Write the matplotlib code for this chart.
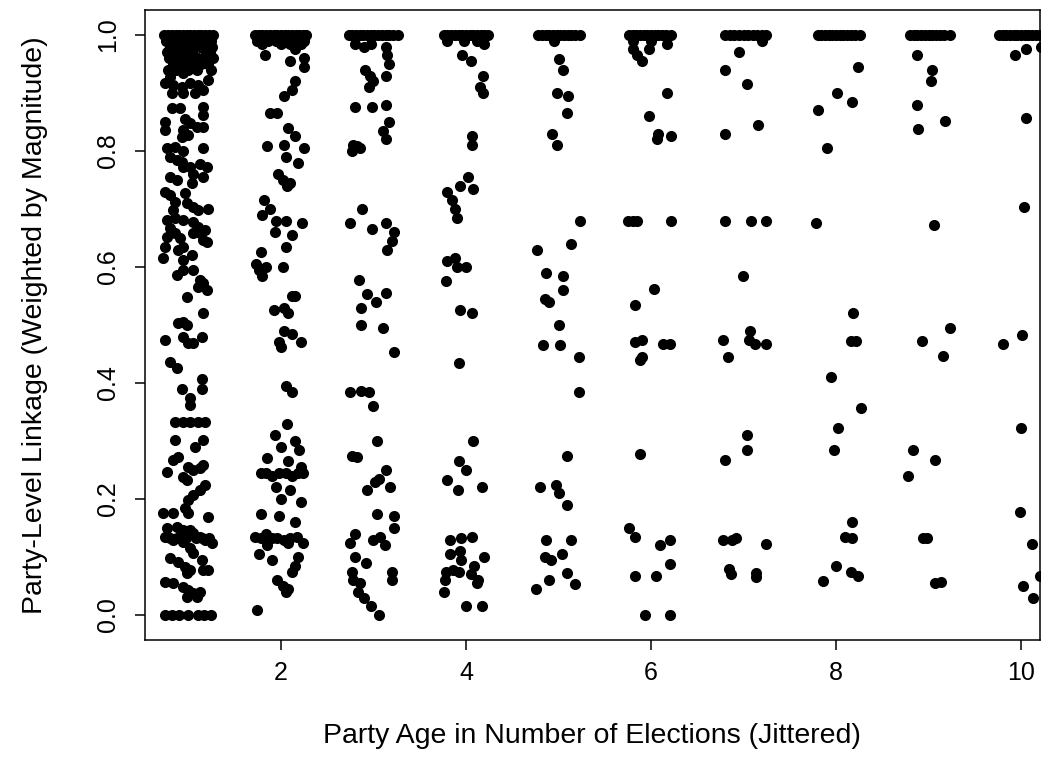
import matplotlib
matplotlib.use("Agg")
import matplotlib.pyplot as plt

plt.rcParams['font.family'] = ['Liberation Sans', 'DejaVu Sans']

# (jittered party age, party-level linkage), one list per age group
g1 = [
    (0.74, 1.0), (0.78, 1.0), (0.82, 1.0), (0.86, 1.0), (0.90, 1.0), (0.94, 1.0), (0.98, 1.0),
    (1.02, 1.0), (1.06, 1.0), (1.10, 1.0), (1.14, 1.0), (1.18, 1.0), (1.22, 1.0), (1.26, 1.0),
    (0.76, 0.99), (0.88, 0.99), (0.97, 0.99), (1.08, 0.99), (1.20, 0.99), (1.24, 0.99),
    (0.80, 0.98), (0.92, 0.98), (1.01, 0.98), (1.12, 0.98), (1.16, 0.98), (1.25, 0.98),
    (0.77, 0.97), (0.85, 0.97), (0.95, 0.97), (1.04, 0.97), (1.19, 0.97), (1.23, 0.97),
    (0.79, 0.96), (0.90, 0.96), (0.99, 0.96), (1.10, 0.96), (1.17, 0.96), (1.26, 0.96),
    (0.83, 0.95), (0.94, 0.95), (1.06, 0.95), (1.14, 0.95), (1.21, 0.95),
    (0.78, 0.94), (0.87, 0.94), (1.00, 0.94), (1.09, 0.94), (1.24, 0.94),
    (0.855, 0.94), (0.94, 0.934), (0.80, 0.928), (0.75, 0.917), (0.83, 0.914), (0.93, 0.91),
    (1.02, 0.917), (1.10, 0.914), (1.21, 0.922), (0.94, 0.90), (1.07, 0.90), (1.16, 0.905), (0.82, 0.90),
    (0.82, 0.874), (0.91, 0.874), (1.16, 0.876), (1.16, 0.862), (0.75, 0.85), (0.75, 0.836),
    (0.96, 0.855), (1.02, 0.848), (0.94, 0.836), (1.09, 0.841), (1.16, 0.841), (0.93, 0.824), (1.00, 0.828),
    (0.77, 0.805), (0.855, 0.807), (0.94, 0.80), (0.80, 0.79), (0.875, 0.784), (0.93, 0.781),
    (0.94, 0.772), (1.16, 0.805), (1.12, 0.778), (1.20, 0.772), (1.02, 0.772), (1.16, 0.755), (1.05, 0.76),
    (0.80, 0.755), (0.875, 0.75), (1.04, 0.745), (0.75, 0.73), (0.80, 0.724), (0.96, 0.727),
    (0.855, 0.712), (0.98, 0.71), (1.05, 0.703), (1.10, 0.698), (0.83, 0.698), (1.21, 0.70),
    (0.77, 0.681), (0.855, 0.684), (0.94, 0.681), (1.05, 0.678), (1.10, 0.669), (1.05, 0.659),
    (1.12, 0.659), (1.18, 0.664), (1.16, 0.647), (0.80, 0.667), (0.77, 0.652), (0.91, 0.65),
    (0.94, 0.634), (1.20, 0.643), (0.855, 0.659), (0.75, 0.634), (0.89, 0.629), (0.72, 0.615),
    (0.94, 0.612), (1.04, 0.621),
    (0.875, 0.586), (0.94, 0.595), (1.05, 0.595), (1.12, 0.578), (1.16, 0.572), (1.10, 0.566),
    (1.20, 0.56), (0.98, 0.548), (1.16, 0.521), (0.89, 0.503), (0.94, 0.505),
    (0.98, 0.50), (0.75, 0.474), (0.94, 0.479), (1.00, 0.469), (1.05, 0.469), (1.15, 0.479),
    (0.80, 0.436), (0.875, 0.426), (1.15, 0.407), (0.93, 0.39), (1.15, 0.39), (1.02, 0.374), (1.02, 0.362),
    (0.855, 0.333), (0.94, 0.333), (1.02, 0.333), (1.10, 0.333), (1.18, 0.333),
    (0.855, 0.302), (1.07, 0.29), (1.16, 0.302), (0.83, 0.267), (0.89, 0.272), (0.77, 0.247),
    (1.00, 0.255), (1.05, 0.25), (1.12, 0.253), (1.16, 0.259), (0.94, 0.238), (0.98, 0.233),
    (1.18, 0.224), (1.12, 0.216), (1.05, 0.207), (1.00, 0.198), (0.96, 0.184), (1.00, 0.176),
    (0.72, 0.176), (0.83, 0.176), (1.21, 0.169),
    (0.77, 0.15), (0.875, 0.152), (0.94, 0.147), (1.02, 0.147), (1.05, 0.141), (1.12, 0.134),
    (1.18, 0.129), (1.25, 0.124), (0.75, 0.134), (0.83, 0.129), (0.94, 0.126), (1.02, 0.116), (1.05, 0.107),
    (0.80, 0.133), (0.88, 0.133), (0.97, 0.133), (1.08, 0.133), (1.15, 0.133), (1.22, 0.133),
    (0.80, 0.098), (0.89, 0.091), (0.96, 0.083), (1.15, 0.095), (1.16, 0.078), (1.21, 0.078),
    (1.02, 0.078), (0.98, 0.072),
    (0.75, 0.057), (0.83, 0.055), (0.94, 0.048), (1.00, 0.043), (1.05, 0.038), (1.12, 0.040),
    (0.98, 0.031), (1.09, 0.031),
    (0.75, 0.0), (0.82, 0.0), (0.90, 0.0), (1.00, 0.0), (1.10, 0.0), (1.17, 0.0), (1.24, 0.0),
]

g2 = [
    (1.72, 1.0), (1.76, 1.0), (1.80, 1.0), (1.84, 1.0), (1.88, 1.0), (1.92, 1.0), (1.96, 1.0), (2.00, 1.0),
    (2.04, 1.0), (2.08, 1.0), (2.12, 1.0), (2.16, 1.0), (2.20, 1.0), (2.24, 1.0), (2.27, 1.0),
    (1.74, 0.99), (1.86, 0.99), (1.95, 0.99), (2.06, 0.99), (2.18, 0.99), (2.25, 0.99),
    (1.80, 0.985), (2.00, 0.985), (2.10, 0.985), (2.22, 0.985),
    (2.15, 0.975), (1.83, 0.965), (2.25, 0.96), (2.10, 0.955), (2.25, 0.945),
    (2.15, 0.92), (2.12, 0.905), (2.03, 0.895), (1.88, 0.865), (1.96, 0.866),
    (2.08, 0.84), (2.15, 0.825), (1.85, 0.808), (2.03, 0.81), (2.25, 0.805), (2.05, 0.79), (2.18, 0.78),
    (1.97, 0.76), (2.02, 0.75), (2.10, 0.745), (2.07, 0.74),
    (1.82, 0.716), (1.88, 0.70), (1.79, 0.69), (1.95, 0.68), (2.05, 0.68), (2.23, 0.675),
    (2.12, 0.655), (1.94, 0.66), (2.05, 0.635),
    (1.78, 0.625), (1.73, 0.605), (1.76, 0.595), (1.84, 0.60), (1.80, 0.585), (2.02, 0.60),
    (2.12, 0.55), (2.15, 0.55), (2.03, 0.53), (1.92, 0.525), (2.08, 0.52),
    (2.03, 0.49), (2.12, 0.485), (2.22, 0.47), (1.98, 0.47), (2.00, 0.462),
    (2.05, 0.395), (2.12, 0.385),
    (2.07, 0.33), (2.15, 0.30), (1.93, 0.31), (2.00, 0.29), (2.20, 0.285),
    (1.85, 0.27), (2.08, 0.265), (2.22, 0.255),
    (1.78, 0.245), (1.84, 0.245), (1.90, 0.24), (1.98, 0.245), (2.05, 0.245), (2.12, 0.24),
    (2.18, 0.245), (2.24, 0.245),
    (1.95, 0.22), (2.10, 0.215), (2.00, 0.20), (2.22, 0.195),
    (1.78, 0.175), (1.98, 0.17), (2.15, 0.16),
    (1.72, 0.135), (1.78, 0.133), (1.84, 0.14), (1.90, 0.133), (1.96, 0.133), (2.03, 0.13),
    (2.10, 0.133), (2.17, 0.135), (2.24, 0.125),
    (1.85, 0.12), (2.08, 0.125), (1.76, 0.105), (1.90, 0.095), (2.18, 0.10), (2.15, 0.085),
    (2.12, 0.075), (1.96, 0.06), (2.02, 0.05), (2.08, 0.045), (2.05, 0.04),
    (1.74, 0.008),
]

g3 = [
    (2.73, 1.0), (2.77, 1.0), (2.81, 1.0), (2.85, 1.0), (2.89, 1.0), (2.93, 1.0), (2.97, 1.0),
    (3.01, 1.0), (3.05, 1.0), (3.09, 1.0), (3.13, 1.0), (3.17, 1.0), (3.21, 1.0), (3.26, 1.0),
    (2.80, 0.985), (2.90, 0.98), (2.97, 0.985), (3.13, 0.98),
    (3.15, 0.965), (3.17, 0.95),
    (2.91, 0.94), (2.96, 0.93), (3.00, 0.92), (3.13, 0.93), (2.95, 0.91),
    (2.80, 0.875), (2.98, 0.875), (3.14, 0.88),
    (3.17, 0.85), (3.10, 0.835), (3.14, 0.82),
    (2.78, 0.81), (2.82, 0.808), (2.85, 0.805), (2.77, 0.80),
    (2.88, 0.70), (2.75, 0.675), (2.98, 0.665), (3.13, 0.675), (3.22, 0.66), (3.20, 0.645), (3.15, 0.63),
    (2.84, 0.578), (2.93, 0.553), (3.03, 0.54), (3.13, 0.555), (2.86, 0.53), (2.87, 0.50), (3.10, 0.495),
    (3.22, 0.453),
    (2.75, 0.385), (2.86, 0.387), (2.95, 0.385), (2.99, 0.36),
    (3.04, 0.30), (2.77, 0.275), (2.82, 0.272),
    (3.14, 0.25), (3.06, 0.235), (3.02, 0.23), (2.93, 0.215), (3.18, 0.22),
    (3.04, 0.175), (3.22, 0.17), (3.22, 0.15),
    (2.80, 0.14), (2.75, 0.125), (3.00, 0.13), (3.07, 0.135), (3.12, 0.12),
    (2.80, 0.10), (2.92, 0.09), (2.77, 0.075), (3.20, 0.075), (3.20, 0.06),
    (2.78, 0.06), (2.85, 0.055), (2.83, 0.04), (2.90, 0.03), (2.97, 0.015), (3.06, 0.0),
]

g4 = [
    (3.76, 1.0), (3.80, 1.0), (3.84, 1.0), (3.88, 1.0), (3.92, 1.0), (3.96, 1.0), (4.00, 1.0),
    (4.04, 1.0), (4.08, 1.0), (4.12, 1.0), (4.16, 1.0), (4.20, 1.0), (4.24, 1.0),
    (3.80, 0.99), (3.98, 0.99), (4.12, 0.99),
    (4.20, 0.985), (3.96, 0.965), (4.05, 0.955), (4.18, 0.93), (4.15, 0.91), (4.18, 0.90),
    (4.06, 0.825), (4.07, 0.81),
    (4.02, 0.755), (3.93, 0.74), (4.08, 0.735), (3.80, 0.73), (3.85, 0.715),
    (3.88, 0.70), (3.90, 0.685),
    (3.88, 0.615), (3.80, 0.61), (3.90, 0.60), (4.00, 0.60), (3.78, 0.575),
    (3.93, 0.525), (4.07, 0.52), (3.92, 0.435),
    (4.08, 0.30), (3.92, 0.265), (4.00, 0.25), (3.80, 0.232), (3.91, 0.215), (4.17, 0.22),
    (3.83, 0.13), (3.95, 0.133), (4.06, 0.135),
    (3.83, 0.105), (3.94, 0.11), (3.95, 0.095), (4.20, 0.10), (3.78, 0.075), (3.86, 0.078),
    (3.92, 0.075), (4.09, 0.085), (4.05, 0.07), (3.77, 0.06), (4.13, 0.06), (4.12, 0.055),
    (3.76, 0.04), (4.00, 0.015), (4.17, 0.015),
]

g5 = [
    (4.78, 1.0), (4.82, 1.0), (4.86, 1.0), (4.90, 1.0), (4.94, 1.0), (4.98, 1.0),
    (5.02, 1.0), (5.06, 1.0), (5.10, 1.0), (5.14, 1.0), (5.18, 1.0), (5.23, 1.0), (4.95, 0.99),
    (5.00, 0.958), (5.05, 0.94), (4.98, 0.90), (5.10, 0.895), (5.09, 0.865), (4.93, 0.83), (4.98, 0.81),
    (5.23, 0.68), (4.77, 0.63), (5.13, 0.64), (4.86, 0.59), (5.05, 0.585),
    (4.85, 0.545), (4.90, 0.54), (5.05, 0.56), (5.00, 0.50),
    (4.83, 0.465), (5.02, 0.465), (5.22, 0.445), (5.22, 0.385), (5.09, 0.275),
    (4.80, 0.22), (4.97, 0.225), (5.00, 0.21), (5.09, 0.19),
    (4.87, 0.13), (5.13, 0.13), (4.85, 0.10), (4.92, 0.095), (5.04, 0.105),
    (5.09, 0.072), (4.90, 0.06), (5.18, 0.053), (4.76, 0.045),
]

g6 = [
    (5.76, 1.0), (5.80, 1.0), (5.84, 1.0), (5.88, 1.0), (5.92, 1.0), (5.96, 1.0),
    (6.00, 1.0), (6.04, 1.0), (6.08, 1.0), (6.12, 1.0), (6.16, 1.0), (6.22, 1.0),
    (5.80, 0.99), (6.00, 0.99),
    (5.80, 0.975), (5.85, 0.965), (5.98, 0.975), (6.17, 0.985), (5.90, 0.955),
    (6.17, 0.90), (5.98, 0.86), (6.08, 0.83), (6.06, 0.82), (6.22, 0.825),
    (5.75, 0.68), (5.80, 0.68), (5.85, 0.68), (6.22, 0.68),
    (6.03, 0.562), (5.83, 0.535),
    (5.83, 0.47), (5.90, 0.475), (6.13, 0.467), (6.20, 0.467), (5.88, 0.44), (5.90, 0.445),
    (5.88, 0.277),
    (5.76, 0.15), (5.83, 0.135), (6.10, 0.12), (6.20, 0.13), (6.21, 0.088),
    (5.83, 0.068), (6.05, 0.068), (5.94, 0.0), (6.21, 0.0),
]

g7 = [
    (6.80, 1.0), (6.85, 1.0), (6.90, 1.0), (6.95, 1.0), (7.00, 1.0), (7.05, 1.0),
    (7.10, 1.0), (7.15, 1.0), (7.20, 1.0), (7.24, 1.0), (7.20, 0.99),
    (6.95, 0.97), (6.80, 0.94), (7.04, 0.915), (7.16, 0.845), (6.80, 0.83),
    (6.80, 0.68), (7.08, 0.68), (7.24, 0.68), (6.99, 0.585),
    (7.07, 0.49), (6.78, 0.475), (7.06, 0.475), (7.12, 0.468), (7.24, 0.467), (6.83, 0.445),
    (7.04, 0.31), (7.04, 0.285), (6.80, 0.268),
    (6.78, 0.13), (6.88, 0.13), (6.92, 0.133), (7.24, 0.123),
    (6.84, 0.08), (6.87, 0.07), (7.14, 0.072), (7.14, 0.065),
]

g8 = [
    (7.80, 1.0), (7.84, 1.0), (7.88, 1.0), (7.92, 1.0), (7.96, 1.0), (8.00, 1.0),
    (8.04, 1.0), (8.08, 1.0), (8.12, 1.0), (8.16, 1.0), (8.20, 1.0), (8.26, 1.0),
    (8.24, 0.945), (8.01, 0.90), (8.17, 0.885), (7.81, 0.87), (7.90, 0.805), (7.78, 0.675),
    (8.18, 0.52), (8.16, 0.473), (8.22, 0.473), (7.95, 0.41), (8.27, 0.357), (8.02, 0.323),
    (7.98, 0.285), (8.17, 0.16), (8.10, 0.135), (8.17, 0.133), (8.00, 0.085),
    (8.16, 0.075), (8.24, 0.068), (7.86, 0.058),
]

g9 = [
    (8.80, 1.0), (8.84, 1.0), (8.88, 1.0), (8.92, 1.0), (8.96, 1.0), (9.00, 1.0),
    (9.04, 1.0), (9.08, 1.0), (9.12, 1.0), (9.17, 1.0), (9.23, 1.0),
    (8.88, 0.965), (9.04, 0.94), (9.03, 0.92), (8.88, 0.88), (8.89, 0.838), (9.18, 0.852),
    (9.06, 0.672), (9.23, 0.495), (8.93, 0.473), (9.16, 0.447),
    (8.83, 0.285), (9.07, 0.267), (8.78, 0.24), (8.94, 0.133), (8.98, 0.133),
    (9.07, 0.055), (9.14, 0.057),
]

g10 = [
    (9.76, 1.0), (9.80, 1.0), (9.84, 1.0), (9.88, 1.0), (9.92, 1.0), (9.96, 1.0),
    (10.00, 1.0), (10.04, 1.0), (10.08, 1.0), (10.12, 1.0), (10.16, 1.0), (10.21, 1.0),
    (9.93, 0.965), (10.05, 0.975), (10.22, 0.98),
    (10.05, 0.856), (10.03, 0.703), (10.01, 0.483), (9.80, 0.467), (10.00, 0.322),
    (9.99, 0.178), (10.12, 0.123), (10.21, 0.068), (10.02, 0.05), (10.13, 0.03),
]

groups = [g1, g2, g3, g4, g5, g6, g7, g8, g9, g10]

x_ticks = [2, 4, 6, 8, 10]
x_tick_labels = ["2", "4", "6", "8", "10"]
y_ticks = [0.0, 0.2, 0.4, 0.6, 0.8, 1.0]
y_tick_labels = ["0.0", "0.2", "0.4", "0.6", "0.8", "1.0"]
x_label = "Party Age in Number of Elections (Jittered)"
y_label = "Party-Level Linkage (Weighted by Magnitude)"

W, H = 1055, 778
fig = plt.figure(figsize=(W / 100, H / 100), dpi=100)
ax = fig.add_axes([145 / W, 138 / H, 895 / W, 630 / H])

for g in groups:
    xs = [p[0] for p in g]
    ys = [p[1] for p in g]
    ax.scatter(xs, ys, s=64, c='black', linewidths=0, zorder=3)

ax.set_xlim(0.53, 10.205)
ax.set_ylim(-0.043, 1.043)
ax.set_xticks(x_ticks)
ax.set_xticklabels(x_tick_labels)
ax.set_yticks(y_ticks)
ax.set_yticklabels(y_tick_labels, rotation=90, va='center')
for s in ax.spines.values():
    s.set_linewidth(1.1)
ax.tick_params(axis='both', length=7, width=1.1, labelsize=18, direction='out')
ax.tick_params(axis='x', pad=8)
ax.tick_params(axis='y', pad=11)

fig.text(592 / W, 1 - 736 / H, x_label, ha='center', va='center', fontsize=20.5)
fig.text(35 / W, 1 - 325 / H, y_label, ha='center', va='center', rotation=90, fontsize=20.5)

fig.savefig('out.png', dpi=100)
